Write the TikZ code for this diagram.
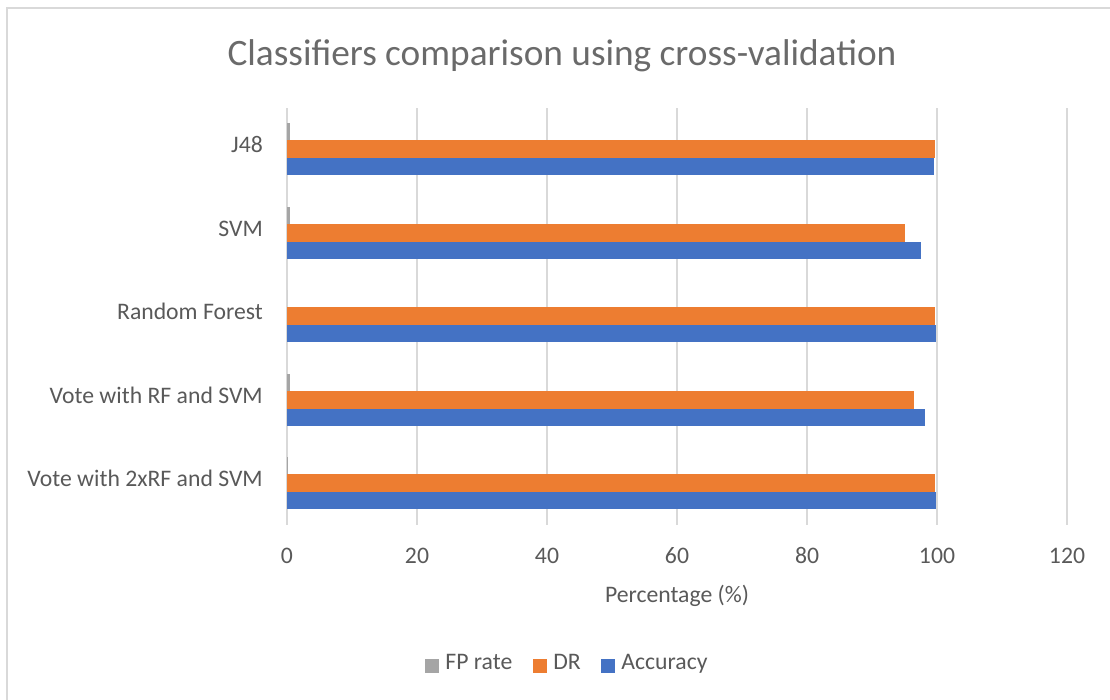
\documentclass[tikz,border=0pt]{standalone}
\usepackage{fontspec}
\setmainfont{Carlito}
\usepackage{tikz}
\usetikzlibrary{positioning, calc}
\definecolor{txtgray}{HTML}{595959}
\definecolor{gridgray}{HTML}{D9D9D9}
\definecolor{fpgray}{HTML}{A5A5A5}
\definecolor{drorange}{HTML}{ED7D31}
\definecolor{accblue}{HTML}{4472C4}
\tikzstyle{gridline} = [gridgray, line width=1.3pt]
\tikzstyle{chartfont} = [text=txtgray, font=\fontsize{23.7}{28}\selectfont, inner sep=0pt]
\tikzstyle{catlabel} = [chartfont, anchor=east, text height=0.644em, text depth=0pt]
\tikzstyle{ticklabel} = [chartfont, anchor=base]
\tikzstyle{legendkey} = [minimum size=14pt, inner sep=0pt]
\tikzstyle{legendtext} = [chartfont, text height=0.644em, text depth=0pt]

\begin{document}
\begin{tikzpicture}[x=1pt,y=-1pt]
  \useasboundingbox (0,0) rectangle (1110,699);
  \clip (0,0) rectangle (1110,699);
  \draw[gridgray, line width=1.5pt] (7,8) rectangle (1125,712);
  \node[text=txtgray!90, font=\fontsize{37.3}{42}\selectfont, anchor=base, inner sep=0pt] (title) at (562,65) {Classifiers comparison using cross-validation};
  % grid and axis values
  \foreach \v in {0,20,...,120} {
    \draw[gridline] ({287+6.5*\v},108) -- ({287+6.5*\v},525);
    \node[ticklabel] (tick\v) at ({287+6.5*\v},563) {\v};
  }
  \node[ticklabel] (xlabel) at (677,602) {Percentage (\%)};
  % bars: name/centre/FP rate/DR/Accuracy
  \foreach \name/\yc/\fp/\dr/\acc [count=\i] in {
      J48/149/0.4/99.7/99.6,
      SVM/233/0.4/95.0/97.5,
      Random Forest/316/0.0/99.7/99.9,
      Vote with RF and SVM/400/0.5/96.5/98.2,
      Vote with 2xRF and SVM/483/0.2/99.7/99.9} {
    \fill[fpgray] (287,\yc-26) rectangle ({287+6.5*\fp},\yc-9);
    \fill[drorange] (287,\yc-9) rectangle ({287+6.5*\dr},\yc+8.5);
    \fill[accblue] (287,\yc+8.5) rectangle ({287+6.5*\acc},\yc+26);
    \node[catlabel] (cat\i) at (263,\yc) {\name};
  }
  % legend
  \node[legendkey, fill=fpgray] (key_fp) at (432,666) {};
  \node[legendtext, right=6 of key_fp] (txt_fp) {FP rate};
  \node[legendkey, fill=drorange] (key_dr) at (540,666) {};
  \node[legendtext, right=6 of key_dr] (txt_dr) {DR};
  \node[legendkey, fill=accblue] (key_acc) at (608,666) {};
  \node[legendtext, right=6 of key_acc] (txt_acc) {Accuracy};
\end{tikzpicture}
\end{document}
